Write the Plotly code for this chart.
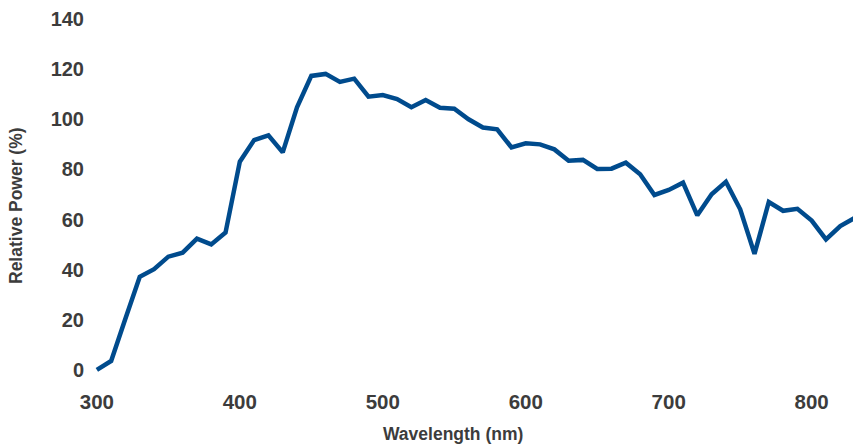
import plotly.graph_objects as go

# Relative spectral power, sampled every 10 nm
wavelength_nm = list(range(300, 840, 10))
relative_power = [
    0.0, 3.6, 20.5, 37.2, 40.2, 45.2, 46.8, 52.4, 50.1, 54.8,
    83.1, 91.7, 93.6, 86.8, 104.8, 117.3, 118.1, 114.9, 116.2, 109.0,
    109.7, 108.1, 104.8, 107.7, 104.6, 104.2, 100.0, 96.7, 96.0, 88.8,
    90.4, 90.0, 88.0, 83.5, 83.8, 80.2, 80.3, 82.7, 78.1, 69.8,
    71.8, 74.7, 61.7, 70.1, 75.1, 64.1, 46.3, 67.0, 63.5, 64.3,
    59.6, 52.1, 57.4, 60.6,
]
x_ticks = [300, 400, 500, 600, 700, 800]
y_ticks = [0, 20, 40, 60, 80, 100, 120, 140]

TEXT = "#3c3c3c"
LINE = "#004b8d"

# plot area geometry in pixels
LEFT, RIGHT, TOP, BOTTOM = 90, 0, 14, 65
PLOT_W = 853 - LEFT - RIGHT
PLOT_H = 445 - TOP - BOTTOM

fig = go.Figure(
    go.Scatter(
        x=wavelength_nm,
        y=relative_power,
        mode="lines",
        line=dict(color=LINE, width=4.5),
        hoverinfo="x+y",
    )
)

fig.update_layout(
    width=853,
    height=445,
    margin=dict(l=LEFT, r=RIGHT, t=TOP, b=BOTTOM),
    paper_bgcolor="white",
    plot_bgcolor="white",
    showlegend=False,
    xaxis=dict(
        range=[295.2, 828.9],
        tickvals=x_ticks,
        showgrid=False,
        zeroline=False,
        showline=False,
        ticks="",
        ticklabelstandoff=7,
        tickfont=dict(family="Liberation Sans, Arial", size=20.5, color=TEXT, weight="bold"),
    ),
    yaxis=dict(
        range=[-4, 142],
        tickvals=y_ticks,
        showgrid=False,
        zeroline=False,
        showline=False,
        ticks="",
        ticklabelstandoff=5,
        tickfont=dict(family="Liberation Sans, Arial", size=20, color=TEXT, weight="bold"),
    ),
    annotations=[
        dict(
            text="Wavelength (nm)",
            xref="paper", yref="paper",
            x=(452.5 - LEFT) / PLOT_W, y=(445 - BOTTOM - 434) / PLOT_H,
            xanchor="center", yanchor="middle",
            showarrow=False,
            font=dict(family="Liberation Sans, Arial", size=17.5, color=TEXT, weight="bold"),
        ),
        dict(
            text="Relative Power (%)",
            xref="paper", yref="paper",
            x=(16 - LEFT) / PLOT_W, y=(445 - BOTTOM - 206) / PLOT_H,
            xanchor="center", yanchor="middle",
            textangle=-90,
            showarrow=False,
            font=dict(family="Liberation Sans, Arial", size=17.5, color=TEXT, weight="bold"),
        ),
    ],
)

fig.write_html("out.html")
